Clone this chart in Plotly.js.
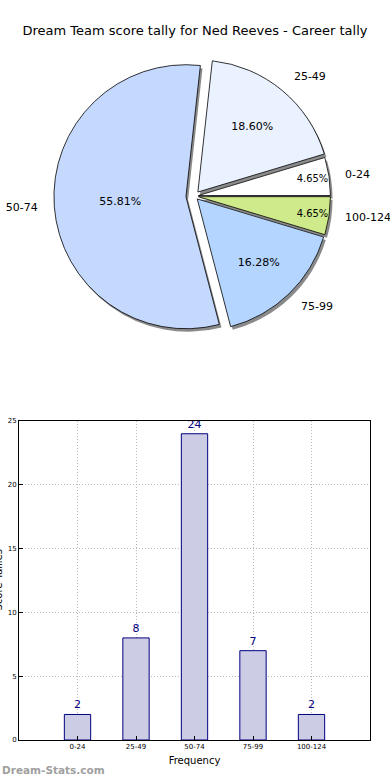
<!DOCTYPE html>
<html>
<head>
<meta charset="utf-8">
<script src="https://cdn.plot.ly/plotly-3.0.1.min.js"></script>
<style>html,body{margin:0;padding:0;background:#fff;}#chart{width:390px;height:780px;}</style>
</head>
<body>
<div id="chart"></div>
<script>
var categories = ["0-24", "25-49", "50-74", "75-99", "100-124"];
var counts = [2, 8, 24, 7, 2];
var sliceColors = ["#ffffff", "#eaf1ff", "#c5d9fe", "#b4d5ff", "#cfea8a"];
var slicePull = [0.03, 0.04, 0.065, 0.03, 0.03];
var titleText = "Dream Team score tally for Ned Reeves - Career tally";

var FONT = "DejaVu Sans, Liberation Sans, sans-serif";
var total = counts.reduce(function(a, b){return a + b;}, 0);
// first slice starts at 3 o'clock and runs counter-clockwise
var rot = 90 - 360 * counts[0] / total;
var pieX = [0.01, 0.99];
var pieY = [0.545, 0.925];
var sh = 0.006, shy = 0.004;

var shadow = {
  type: "pie", values: counts, labels: categories, sort: false,
  direction: "counterclockwise", rotation: rot, pull: slicePull,
  marker: {colors: categories.map(function(){return "#8a8a8a";}), line: {width: 0}},
  textinfo: "none", hoverinfo: "skip", showlegend: false,
  domain: {x: [pieX[0] + sh, pieX[1] + sh], y: [pieY[0] - shy, pieY[1] - shy]}
};
var pie = {
  type: "pie", values: counts, labels: categories, sort: false,
  direction: "counterclockwise", rotation: rot, pull: slicePull,
  marker: {colors: sliceColors, line: {color: "#000000", width: 0.8}},
  texttemplate: "%{percent:.2%}", textposition: "inside",
  insidetextorientation: "horizontal",
  textfont: {family: FONT, size: 11, color: "#000000"},
  hoverinfo: "skip", showlegend: false,
  domain: {x: pieX, y: pieY}
};
var grow = 0.018;
var labelPie = {
  type: "pie", values: counts, labels: categories, sort: false,
  direction: "counterclockwise", rotation: rot, pull: slicePull,
  marker: {colors: categories.map(function(){return "rgba(0,0,0,0)";}), line: {width: 0}},
  textinfo: "label", textposition: "outside",
  outsidetextfont: {family: FONT, size: 11, color: "#000000"},
  hoverinfo: "skip", showlegend: false,
  domain: {x: [0, 1], y: [pieY[0] - grow, pieY[1] + grow]}
};
var bars = {
  type: "bar", x: categories, y: counts, width: 0.45,
  marker: {color: "#ccccE4", line: {color: "#000080", width: 1}},
  text: counts.map(String), textposition: "outside", cliponaxis: false,
  textfont: {family: FONT, size: 11, color: "#000080"},
  xaxis: "x", yaxis: "y", showlegend: false, hoverinfo: "skip"
};

var layout = {
  width: 390, height: 780,
  margin: {l: 19, r: 20, t: 0, b: 40},
  paper_bgcolor: "#ffffff", plot_bgcolor: "#ffffff",
  font: {family: FONT, color: "#000000"},
  title: {text: titleText, font: {family: FONT, size: 13, color: "#000000"},
          x: 0.5, xref: "container", xanchor: "center", y: 1 - 30/780, yref: "container", yanchor: "middle"},
  xaxis: {
    domain: [0, 1], range: [-1, 5], type: "category",
    showgrid: true, gridcolor: "#b8b8b8", griddash: "1px,2px", gridwidth: 1,
    showline: true, mirror: true, linecolor: "#000000", linewidth: 1,
    ticks: "inside", ticklen: 4, tickcolor: "#000000",
    tickfont: {family: FONT, size: 7, color: "#000000"},
    title: {text: "Frequency", font: {family: FONT, size: 10, color: "#000000"}, standoff: 6},
    zeroline: false, fixedrange: true
  },
  yaxis: {
    domain: [0, (740 - 421) / 740], range: [0, 25], dtick: 5,
    showgrid: true, gridcolor: "#b8b8b8", griddash: "1px,2px", gridwidth: 1,
    showline: true, mirror: true, linecolor: "#000000", linewidth: 1,
    ticks: "inside", ticklen: 4, tickcolor: "#000000",
    tickfont: {family: FONT, size: 7, color: "#000000"},
    zeroline: false, fixedrange: true
  },
  annotations: [
    {text: "Score Tallies", textangle: -90, xref: "paper", yref: "paper",
     x: -19/351, xanchor: "right", y: ((740 - 580) / 740), yanchor: "middle",
     xshift: 5,
     showarrow: false, font: {family: FONT, size: 10, color: "#000000"}},
    {text: "<b>Dream-Stats.com</b>", xref: "paper", yref: "paper",
     x: -19/351, xanchor: "left", y: (740 - 770) / 740, yanchor: "middle",
     showarrow: false, font: {family: FONT, size: 10.5, color: "#a0a0a0"}}
  ]
};

Plotly.newPlot("chart", [shadow, pie, labelPie, bars], layout, {displayModeBar: false, staticPlot: true});
</script>
</body>
</html>
